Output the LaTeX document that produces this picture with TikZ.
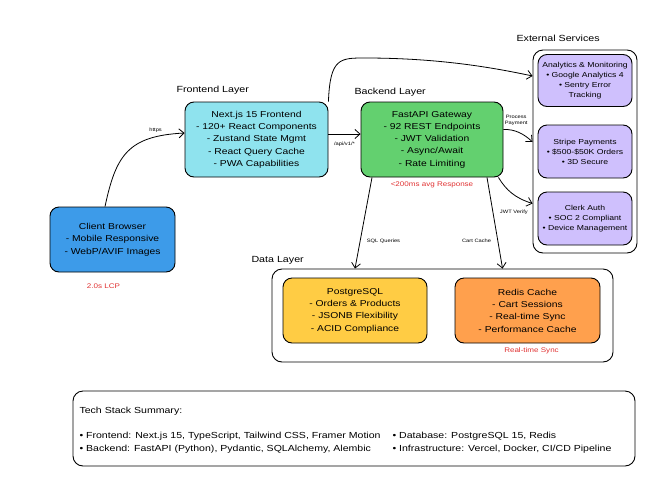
\documentclass[tikz,border=0pt]{standalone}
\usepackage{fontspec}
\setmainfont{Liberation Sans}[FakeStretch=1.2]
\usetikzlibrary{arrows.meta, positioning}
\definecolor{cBrowser}{HTML}{3D9BE9}
\definecolor{cFront}{HTML}{8FE3EE}
\definecolor{cBack}{HTML}{63D06F}
\definecolor{cSvc}{HTML}{CFC0FD}
\definecolor{cPg}{HTML}{FFCC44}
\definecolor{cRedis}{HTML}{FFA04D}
\definecolor{cNote}{HTML}{E03131}

\begin{document}
\begin{tikzpicture} [
        x = 1pt, y = -1pt,
        box/.style = {draw, line width=0.9pt, rounded corners=9pt, align=center,
                      font=\fontsize{8.6}{12.3}\selectfont, inner sep=2pt},
        group/.style = {draw, line width=0.9pt, rounded corners=10pt},
        svc/.style = {box, fill=cSvc, minimum width=94pt, minimum height=52pt,
                      font=\fontsize{7.2}{10}\selectfont},
        edge/.style = {draw, line width=0.8pt, -{Straight Barb[length=5pt,width=9pt]}},
        tag/.style = {font=\fontsize{4.8}{5.8}\selectfont, align=center},
        note/.style = {text=cNote, font=\fontsize{6.7}{8}\selectfont},
        layer/.style = {anchor=west, font=\fontsize{8.9}{10}\selectfont},
        sum/.style = {anchor=west, font=\fontsize{8.8}{10}\selectfont}
    ]
    \useasboundingbox (0,0) rectangle (658,477);

    % containers
    \node[group, minimum width=104pt, minimum height=203pt] (ext)  at (585,151.5) {};
    \node[group, minimum width=341pt, minimum height=93pt]  (data) at (442.5,315.5) {};
    \node[group, minimum width=562pt, minimum height=75pt]  (summary) at (354,428.5) {};

    % layer titles
    \node[layer] (frontendL) at (173,90)  {Frontend Layer};
    \node[layer] (backendL)  at (351,92)  {Backend Layer};
    \node[layer] (extL)      at (513,38)  {External Services};
    \node[layer] (dataL)     at (248,260) {Data Layer};

    % main boxes
    \node[box, fill=cBrowser, minimum width=125pt, minimum height=65pt] (browser) at (112.5,239.5)
        {Client Browser\\- Mobile Responsive\\- WebP/AVIF Images};
    \node[box, fill=cFront, minimum width=143pt, minimum height=75pt] (frontend) at (256.5,139.5)
        {Next.js 15 Frontend\\- 120+ React Components\\- Zustand State Mgmt\\- React Query Cache\\- PWA Capabilities};
    \node[box, fill=cBack, minimum width=142pt, minimum height=75pt] (backend) at (432,139.5)
        {FastAPI Gateway\\- 92 REST Endpoints\\- JWT Validation\\- Async/Await\\- Rate Limiting};

    \node[svc] (analytics) at (585,80.5)
        {Analytics \& Monitoring\\• Google Analytics 4\\• Sentry Error\\Tracking};
    \node[svc, minimum height=53pt] (stripe) at (585,151.5)
        {Stripe Payments\\• \$500-\$50K Orders\\• 3D Secure};
    \node[svc, minimum height=53pt] (clerk) at (585,218.5)
        {Clerk Auth\\• SOC 2 Compliant\\• Device Management};

    \node[box, fill=cPg, minimum width=144pt, minimum height=65pt] (postgres) at (355,310.5)
        {PostgreSQL\\- Orders \& Products\\- JSONB Flexibility\\- ACID Compliance};
    \node[box, fill=cRedis, minimum width=145pt, minimum height=65pt] (redis) at (527.5,310.5)
        {Redis Cache\\- Cart Sessions\\- Real-time Sync\\- Performance Cache};

    % notes
    \node[note] (lcp)  at (103.5,286) {2.0s LCP};
    \node[note] (resp) at (432,185)   {<200ms avg Response};
    \node[note] (sync) at (531.5,351) {Real-time Sync};

    % connectors
    \path[edge] ([xshift=-7.5pt]browser.north) .. controls (116,155) and (128,136) .. ([yshift=6.5pt]frontend.west)
        node[tag, pos=0.8, above=1pt] {https};
    \path[edge] ([yshift=5.5pt]frontend.east) -- ([yshift=5.5pt]backend.west)
        node[tag, midway, below=4pt] {/api/v1/*};
    \path[edge] (frontend.north east) .. controls (330,58) and (340,58) .. (365,58)
        .. controls (440,58) and (495,68) .. ([yshift=4.5pt]ext.west |- analytics.west);
    \path[edge] ([yshift=10pt]backend.east) .. controls (515,129) and (524,134) .. ([yshift=9.5pt]ext.west |- stripe.west)
        node[tag, pos=0.4, above=2pt] {Process\\Payment};
    \path[edge] ([xshift=-5pt]backend.south east) .. controls (506,190) and (515,198) .. ([yshift=15pt]ext.west |- clerk.west)
        node[tag, pos=1, anchor=north east, xshift=-1pt, yshift=-3pt] {JWT Verify};
    \path[edge] ([xshift=-60pt]backend.south) -- (data.north -| postgres.center)
        node[tag, pos=0.7, right=3pt] {SQL Queries};
    \path[edge] ([xshift=55pt]backend.south) -- ([xshift=48pt]data.north -| redis.west)
        node[tag, pos=0.7, left=3pt] {Cart Cache};

    % summary text
    \node[sum] (sumT)  at (76,411) {Tech Stack Summary:};
    \node[sum] (sumFe) at (76,436) {• Frontend: Next.js 15, TypeScript, Tailwind CSS, Framer Motion};
    \node[sum] (sumBe) at (76,449) {• Backend: FastAPI (Python), Pydantic, SQLAlchemy, Alembic};
    \node[sum] (sumDb) at (389,436) {• Database: PostgreSQL 15, Redis};
    \node[sum] (sumIn) at (389,449) {• Infrastructure: Vercel, Docker, CI/CD Pipeline};

\end{tikzpicture}
\end{document}
